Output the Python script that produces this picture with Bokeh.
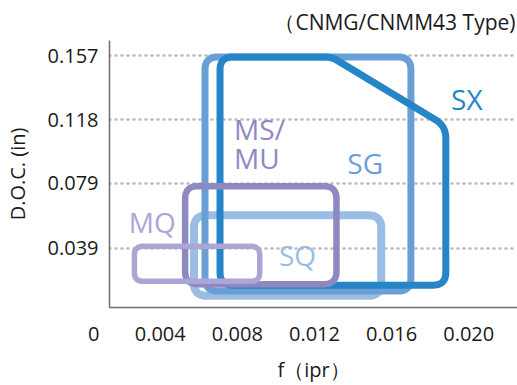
import math
from bokeh.plotting import figure
from bokeh.models import Range1d, FixedTicker
from bokeh.core.properties import value
from bokeh.embed import file_html
from bokeh.resources import INLINE

# ---- data (inches) ----
x_ticks = [0.004, 0.008, 0.012, 0.016, 0.020]
x_tick_labels = ["0.004", "0.008", "0.012", "0.016", "0.020"]
origin_label = "0"
y_ticks = [0.039, 0.079, 0.118, 0.157]
y_tick_labels = ["0.039", "0.079", "0.118", "0.157"]

# application areas: feed f (ipr) and depth of cut (in)
sq_f = [0.00575, 0.01546, 0.01546, 0.00575]
sq_doc = [0.0592, 0.0592, 0.0098, 0.0098]
sg_f = [0.00632, 0.01700, 0.01700, 0.00632]
sg_doc = [0.1564, 0.1564, 0.0127, 0.0127]
sx_f = [0.00710, 0.01288, 0.01881, 0.01881, 0.00710]
sx_doc = [0.1564, 0.1564, 0.1140, 0.0163, 0.0163]
ms_f = [0.00529, 0.01314, 0.01314, 0.00529]
ms_doc = [0.0771, 0.0771, 0.0169, 0.0169]
mq_f = [0.00266, 0.00916, 0.00916, 0.00266]
mq_doc = [0.0402, 0.0402, 0.0187, 0.0187]

names = ["SQ", "SG", "SX", "MS/\nMU", "MQ"]
colors = ["#9bbde3", "#6a9fd6", "#2585c7", "#8f89c2", "#aba6d6"]

X0, X1 = 0.001368, 0.022529
Y0, Y1 = 0.0026, 0.1665
FW, FH = 410, 275
SX_ = FW / (X1 - X0)
SY_ = FH / (Y1 - Y0)


def rounded(xs, ys, radii):
    pts = [(x * SX_, y * SY_) for x, y in zip(xs, ys)]
    n = len(pts)
    out_x, out_y = [], []
    for i in range(n):
        px, py = pts[i]
        ax, ay = pts[i - 1]
        bx, by = pts[(i + 1) % n]
        d1x, d1y = ax - px, ay - py
        d2x, d2y = bx - px, by - py
        l1 = math.hypot(d1x, d1y)
        l2 = math.hypot(d2x, d2y)
        d1x, d1y = d1x / l1, d1y / l1
        d2x, d2y = d2x / l2, d2y / l2
        cosang = max(-1.0, min(1.0, d1x * d2x + d1y * d2y))
        theta = math.acos(cosang)
        r = radii[i] if isinstance(radii, list) else radii
        t = r / math.tan(theta / 2)
        t = min(t, l1 / 2, l2 / 2)
        sx0, sy0 = px + d1x * t, py + d1y * t
        ex0, ey0 = px + d2x * t, py + d2y * t
        for k in range(13):
            s = k / 12
            qx = (1 - s) ** 2 * sx0 + 2 * (1 - s) * s * px + s ** 2 * ex0
            qy = (1 - s) ** 2 * sy0 + 2 * (1 - s) * s * py + s ** 2 * ey0
            out_x.append(qx / SX_)
            out_y.append(qy / SY_)
    return out_x, out_y


FONT = "Open Sans"

p = figure(width=517, height=385, x_range=Range1d(X0, X1), y_range=Range1d(Y0, Y1),
           output_backend="svg", toolbar_location=None,
           min_border_left=107, min_border_right=0, min_border_top=40, min_border_bottom=70)
p.outline_line_color = None
p.background_fill_color = "white"
p.border_fill_color = "white"

# type note as title
p.title.text = "（CNMG/CNMM43 Type)"
p.title.align = "right"
p.title.text_font = FONT
p.title.text_font_size = "21px"
p.title.text_font_style = "normal"
p.title.text_color = "#1a1a1a"
p.title.offset = 2
p.title.standoff = 10

# axes
for ax in (p.xaxis[0], p.yaxis[0]):
    ax.axis_line_color = "#6e6e6e"
    ax.axis_line_width = 1.5
    ax.major_tick_out = 0
    ax.major_tick_in = 0
    ax.minor_tick_out = 0
    ax.minor_tick_in = 0
    ax.major_label_text_font = FONT
    ax.major_label_text_font_size = "20px"
    ax.major_label_text_color = "#1a1a1a"
    ax.axis_label_text_font = FONT
    ax.axis_label_text_font_size = "20px"
    ax.axis_label_text_font_style = "normal"
    ax.axis_label_text_color = "#1a1a1a"

# origin "0" sits at the corner, left of the axis line
x0_tick = X0 + 1e-7
xt = [x0_tick] + x_ticks
xl = [origin_label + "\u2007\u2007\u00a0\u2009"] + x_tick_labels
p.xaxis.ticker = FixedTicker(ticks=xt)
p.xaxis.major_label_overrides = dict(zip(xt, xl))
p.yaxis.ticker = FixedTicker(ticks=y_ticks)
p.yaxis.major_label_overrides = dict(zip(y_ticks, y_tick_labels))
p.xaxis.axis_label = "f（ipr）"
p.yaxis.axis_label = "D.O.C. (in)"
p.xaxis.major_label_standoff = 12
p.yaxis.major_label_standoff = 11
p.xaxis.axis_label_standoff = 6
p.yaxis.axis_label_standoff = 14

p.xgrid.visible = False
p.ygrid.ticker = FixedTicker(ticks=y_ticks)
p.ygrid.grid_line_color = "#bcbcbc"
p.ygrid.grid_line_width = 2.5
p.ygrid.grid_line_dash = "1 5"
p.ygrid.grid_line_cap = "round"

# shapes (draw order: SQ, SG, SX, MS, MQ)
shapes = [
    (sq_f, sq_doc, 13, 8),
    (sg_f, sg_doc, 13, 7),
    (sx_f, sx_doc, [13, 22, 22, 13, 13], 7),
    (ms_f, ms_doc, 13, 6.5),
    (mq_f, mq_doc, 9, 5.5),
]
for (fx, fy, rad, lw), col in zip(shapes, colors):
    rx, ry = rounded(fx, fy, rad)
    p.patch(rx, ry, fill_color=None, line_color=col, line_width=lw, line_join="round")

# grade labels (anchor in data units, line pitch in px)
label_pos = {
    "SQ": (0.01112, 0.0348, "center"),
    "SG": (0.01463, 0.0914, "center"),
    "SX": (0.01990, 0.1307, "center"),
    "MS/\nMU": (0.00783, 0.1123, "left"),
    "MQ": (0.00359, 0.0550, "center"),
}
LINE_PITCH = 30
for nm, col in zip(names, colors):
    lx, ly, al = label_pos[nm]
    for i, line in enumerate(nm.split("\n")):
        p.text(x=[lx], y=[ly - i * LINE_PITCH / SY_], text=[line], text_color=col,
               text_font=value(FONT), text_font_size=value("28px"), text_align=al,
               text_baseline="middle")

open("out.html", "w").write(file_html(p, INLINE))
